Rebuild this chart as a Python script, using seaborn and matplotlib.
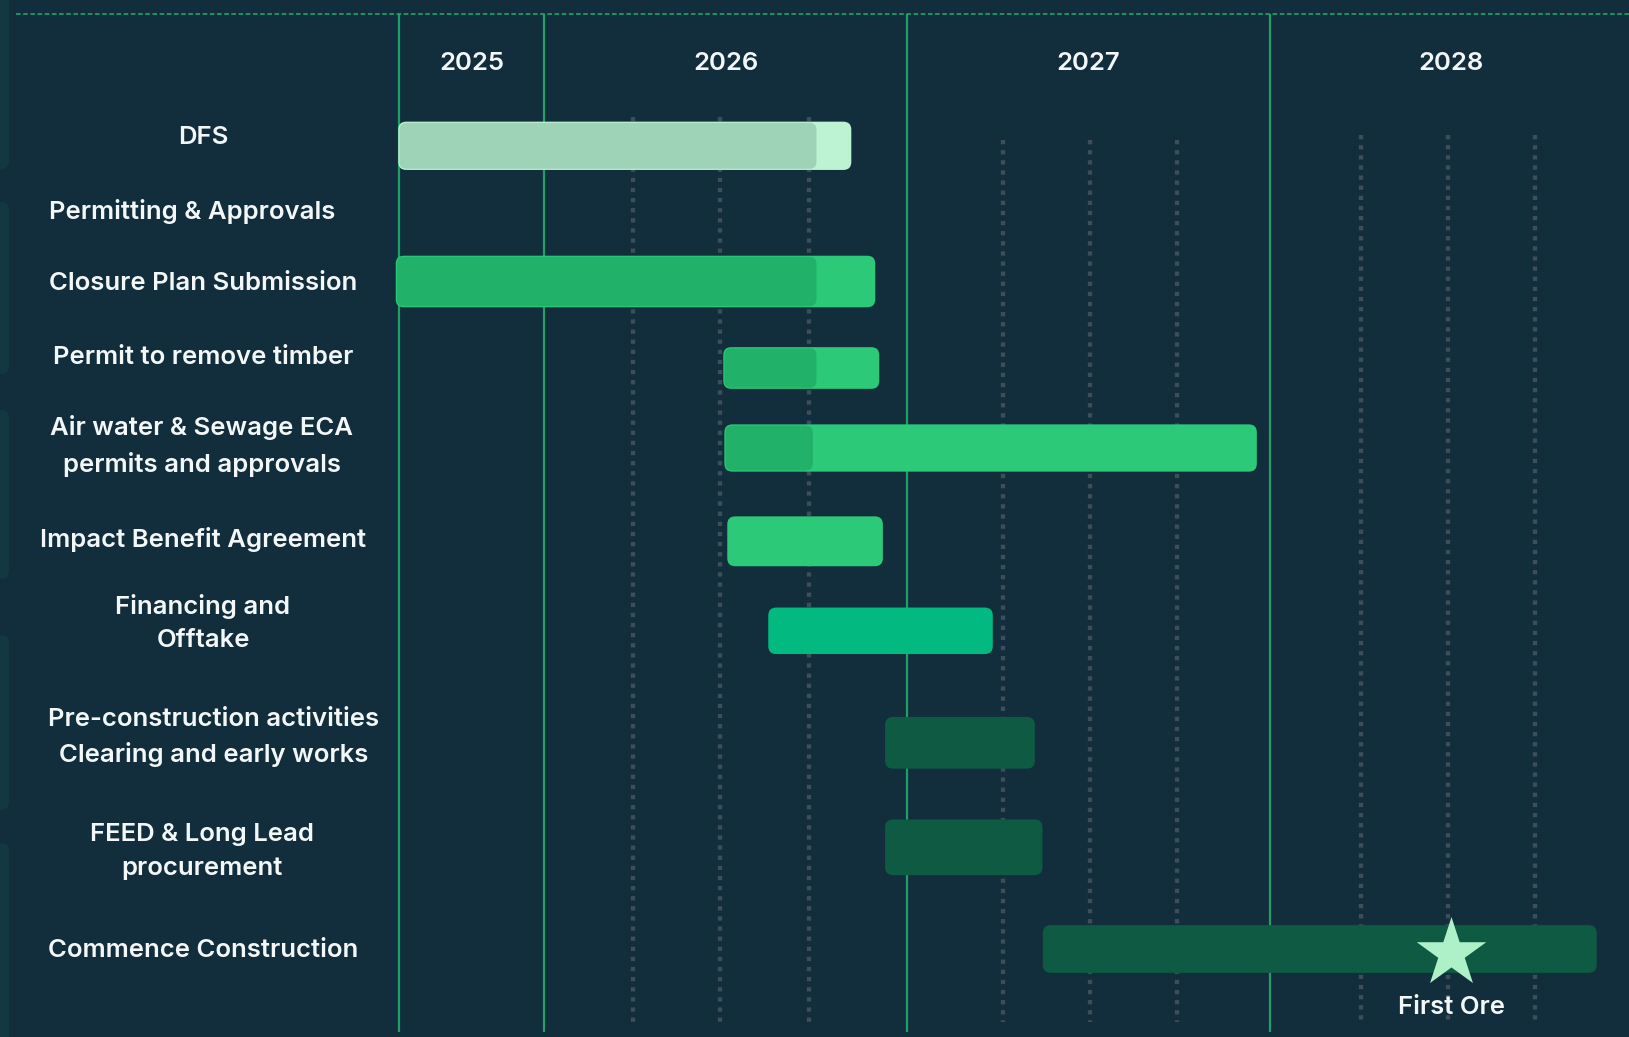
import numpy as np
import matplotlib
matplotlib.use("Agg")
import matplotlib.pyplot as plt
import matplotlib.transforms as mtransforms
from matplotlib.patches import FancyBboxPatch
import seaborn as sns

# ---------------- data ----------------
tasks = [
    "DFS",
    "Permitting & Approvals",
    "Closure Plan Submission",
    "Permit to remove timber",
    "Air water & Sewage ECA\npermits and approvals",
    "Impact Benefit Agreement",
    "Financing and\nOfftake",
    "Pre-construction activities\nClearing and early works",
    "FEED & Long Lead\nprocurement",
    "Commence Construction",
]
start_year = [2025.597, np.nan, 2025.590, 2026.493, 2026.496, 2026.504, 2026.617, 2026.939, 2026.939, 2027.374]
end_year = [2026.846, np.nan, 2026.912, 2026.923, 2027.964, 2026.933, 2027.236, 2027.352, 2027.373, 2028.901]
progress_year = [2026.750, np.nan, 2026.750, 2026.750, 2026.740, np.nan, np.nan, np.nan, np.nan, np.nan]
years = [2025, 2026, 2027, 2028]
timeline_start = 2025.6
quarter_marks = [2026.245, 2026.485, 2026.728, 2027.263, 2027.503, 2027.744, 2028.25, 2028.49, 2028.73]
milestone_year = [2028.5]
milestone_label = ["First Ore"]
milestone_row = 9

# ---------------- layout / style ----------------
W, H = 1629, 1037
XMIN, XMAX = 2024.499, 2028.99
PX_PER_YEAR = W / (XMAX - XMIN)
row_y = [145.8, 208.8, 281.5, 368.0, 448.0, 541.3, 630.8, 742.8, 847.3, 949.0]
bar_h = [48.3, 0, 51.6, 41.7, 47.3, 49.9, 46.5, 51.7, 55.7, 47.7]
label_y = [137.5, 211.0, 284.0, 357.5, 446.0, 540.0, 623.0, 737.5, 851.5, 950.5]
label_x = [203, 192, 203, 203, 202, 203, 203, 214, 202, 203]
base_color = ["#bdf2d3", None, "#2bc978", "#2bc978", "#2bc978", "#2bc978",
              "#02b97f", "#0f5a43", "#0f5a43", "#0f5a43"]
prog_color = ["#9ed3b8", None, "#22b169", "#22b169", "#22b169", None, None, None, None, None]
quarter_top = {2026: 117, 2027: 140, 2028: 135}

BG = "#122d3c"
CARD = "#143841"
YEAR_LINE = "#1fa165"
DOT = "#3e4e59"
TEXT = "#f4f7f7"
STAR = "#aef0c8"

sns.set_theme(style="dark", rc={"axes.facecolor": BG, "figure.facecolor": BG})
plt.rcParams["font.family"] = ["Inter", "DejaVu Sans"]
FS = 18.5
FW = "semibold"

fig = plt.figure(figsize=(W / 100, H / 100), dpi=100)
ax = fig.add_axes([0, 0, 1, 1])
ax.set_xlim(XMIN, XMAX)
ax.set_ylim(H, 0)
ax.set_axis_off()
fig.patch.set_facecolor(BG)

blend = mtransforms.blended_transform_factory(ax.transAxes, ax.transData)

# left-edge cards (slide background)
for y0, y1 in [(-20, 169), (202, 374), (410, 579), (635, 810), (843, 1060)]:
    ax.add_patch(FancyBboxPatch((-12 / W, y0), 21 / W, y1 - y0,
                                boxstyle=f"round,pad=0,rounding_size={8 / W}",
                                mutation_aspect=W, transform=blend,
                                facecolor=CARD, edgecolor="none", zorder=0))

# top dashed rule
ax.plot([15.5 / W, 1.0], [14, 14], transform=blend, color="#22b169",
        lw=1.1, linestyle=(0, (3, 1.7)), zorder=1, solid_capstyle="butt")

# quarter dotted lines
for q in quarter_marks:
    ax.vlines(q, quarter_top[int(q)], 1022, colors=DOT, linewidth=3.1,
              linestyles=(0, (1, 1.35)), zorder=1)

# year boundary lines
year_lines = [timeline_start] + years[1:]
ax.vlines(year_lines, 14, 1032, colors=YEAR_LINE, linewidth=1.6, zorder=2)

# year labels
for y in years:
    left = max(y, timeline_start)
    ax.text((left + y + 1) / 2, 63.5, str(y), ha="center", va="center",
            fontsize=FS, fontweight=FW, color=TEXT, zorder=5)


def round_bars(container, radius_px, zorder):
    for p in list(container.patches):
        x, y = p.get_x(), p.get_y()
        w, h = p.get_width(), p.get_height()
        fc = p.get_facecolor()
        p.remove()
        if not np.isfinite(w) or w <= 0:
            continue
        ax.add_patch(FancyBboxPatch((x, y), w, h,
                                    boxstyle=f"round,pad=0,rounding_size={radius_px / PX_PER_YEAR}",
                                    mutation_aspect=PX_PER_YEAR,
                                    facecolor=fc, edgecolor="none", zorder=zorder))


idx = [i for i in range(len(tasks)) if np.isfinite(start_year[i])]
bars = ax.barh([row_y[i] for i in idx],
               [end_year[i] - start_year[i] for i in idx],
               left=[start_year[i] for i in idx],
               height=[bar_h[i] for i in idx],
               color=[base_color[i] for i in idx])
round_bars(bars, 8, 3)

pidx = [i for i in range(len(tasks)) if np.isfinite(progress_year[i])]
inset = 1.2
pbars = ax.barh([row_y[i] for i in pidx],
                [progress_year[i] - start_year[i] - inset / PX_PER_YEAR for i in pidx],
                left=[start_year[i] + inset / PX_PER_YEAR for i in pidx],
                height=[bar_h[i] - 2 * inset for i in pidx],
                color=[prog_color[i] for i in pidx])
round_bars(pbars, 7, 4)

# task labels
for t, lx, ly in zip(tasks, label_x, label_y):
    ax.text(lx / W, ly, t, transform=blend, ha="center", va="center",
            multialignment="center", linespacing=1.58,
            fontsize=FS, fontweight=FW, color=TEXT, zorder=5)

# milestone star
sns.scatterplot(x=milestone_year, y=[row_y[milestone_row] + 3.5], marker="*", s=2765,
                color=STAR, edgecolor=STAR, linewidth=0, ax=ax, zorder=6, legend=False)
for my, ml in zip(milestone_year, milestone_label):
    ax.text(my, 1008, ml, ha="center", va="center", fontsize=FS,
            fontweight=FW, color=TEXT, zorder=6)

ax.set_xlim(XMIN, XMAX)
ax.set_ylim(H, 0)
fig.savefig("out.png", dpi=100, facecolor=BG)
